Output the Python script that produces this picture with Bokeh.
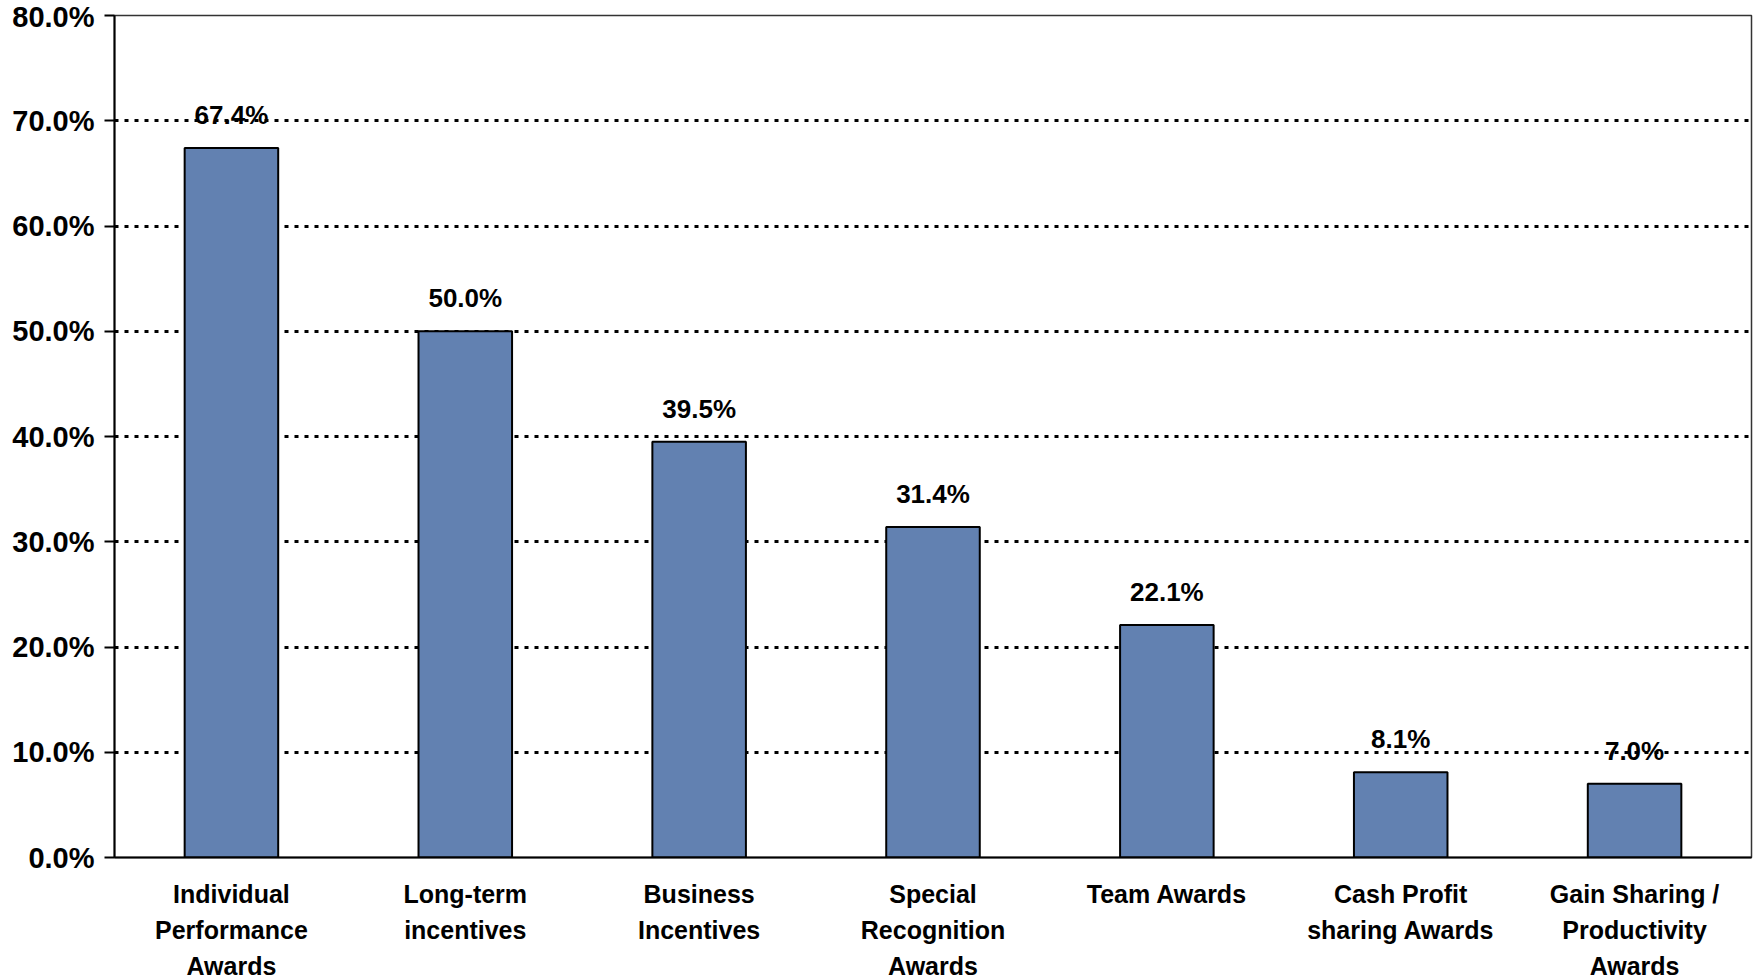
from bokeh.plotting import figure
from bokeh.models import ColumnDataSource, NumeralTickFormatter, FixedTicker, Range1d
from bokeh.embed import file_html
from bokeh.resources import INLINE
from bokeh.core.properties import value

categories = ["Individual\nPerformance\nAwards", "Long-term\nincentives", "Business\nIncentives",
              "Special\nRecognition\nAwards", "Team Awards", "Cash Profit\nsharing Awards",
              "Gain Sharing /\nProductivity\nAwards"]
values = [0.674, 0.500, 0.395, 0.314, 0.221, 0.081, 0.070]
labels = ["67.4%", "50.0%", "39.5%", "31.4%", "22.1%", "8.1%", "7.0%"]
y_ticks = [0.0, 0.1, 0.2, 0.3, 0.4, 0.5, 0.6, 0.7, 0.8]

FONT = "Liberation Sans"
src = ColumnDataSource(dict(cat=categories, val=values, lab=labels))

p = figure(frame_width=1637, frame_height=842, x_range=categories, y_range=Range1d(0, 0.8),
           output_backend="svg", toolbar_location=None,
           min_border_left=114, min_border_right=2, min_border_top=15, min_border_bottom=123)
p.background_fill_color = "white"
p.border_fill_color = "white"
p.outline_line_color = "#333333"
p.outline_line_width = 1.5

p.vbar(x="cat", top="val", width=0.4, source=src, fill_color="#6281B1",
       line_color="black", line_width=2)
p.text(x="cat", y="val", text="lab", source=src, text_align="center", text_baseline="middle",
       y_offset=-33, text_font=value(FONT), text_font_style="bold", text_font_size="26px",
       text_color="black")

p.ygrid.grid_line_color = "black"
p.ygrid.grid_line_dash = "4 6"
p.ygrid.grid_line_width = 3
p.xgrid.grid_line_color = None

p.yaxis.ticker = FixedTicker(ticks=y_ticks)
p.yaxis.formatter = NumeralTickFormatter(format="0.0%")
p.yaxis.axis_line_color = "black"
p.yaxis.axis_line_width = 2
p.yaxis.major_tick_line_color = "black"
p.yaxis.major_tick_line_width = 2
p.yaxis.major_tick_out = 10
p.yaxis.major_tick_in = 0
p.yaxis.minor_tick_line_color = None
p.yaxis.major_label_standoff = 10
p.yaxis.major_label_text_font = FONT
p.yaxis.major_label_text_font_style = "bold"
p.yaxis.major_label_text_font_size = "29px"
p.yaxis.major_label_text_color = "black"

p.xaxis.axis_line_color = "black"
p.xaxis.axis_line_width = 2
p.xaxis.major_tick_line_color = None
p.xaxis.minor_tick_line_color = None
p.xaxis.major_label_standoff = 16
p.xaxis.major_label_text_font = FONT
p.xaxis.major_label_text_font_style = "bold"
p.xaxis.major_label_text_font_size = "25px"
p.xaxis.major_label_text_color = "black"
p.xaxis.major_label_text_line_height = 1.29
p.x_range.range_padding = 0

open("out.html", "w").write(file_html(p, INLINE))
